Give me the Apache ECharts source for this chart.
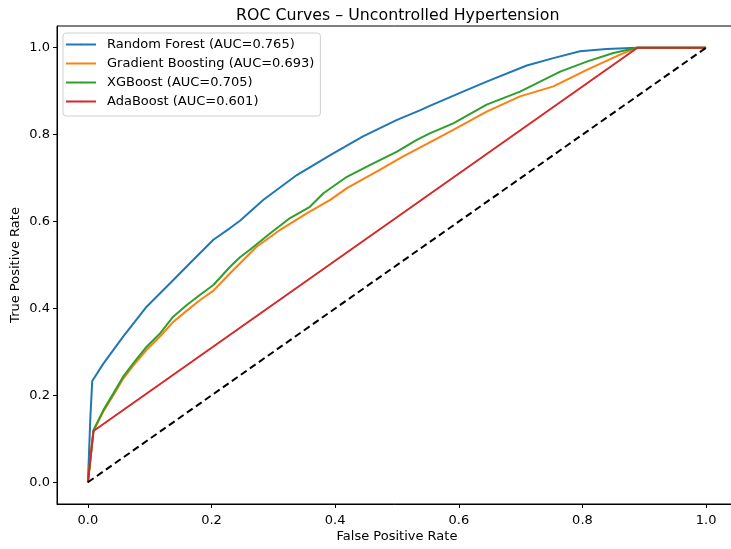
<!DOCTYPE html>
<html>
<head>
<meta charset="utf-8">
<script src="https://cdn.jsdelivr.net/npm/echarts@6/dist/echarts.min.js"></script>
<style>
  html, body { margin: 0; padding: 0; background: #fff; }
  #chart { width: 731px; height: 549px; }
</style>
</head>
<body>
<div id="chart"></div>
<script>
// ROC curve points as [false positive rate, true positive rate]
const randomForest = [
  [0, 0], [0.004, 0.15], [0.007, 0.233], [0.025, 0.273], [0.057, 0.335], [0.095, 0.404],
  [0.133, 0.458], [0.165, 0.504], [0.203, 0.558], [0.23, 0.585], [0.246, 0.602],
  [0.284, 0.650], [0.338, 0.707], [0.392, 0.753], [0.445, 0.796], [0.5, 0.834],
  [0.537, 0.856], [0.553, 0.866], [0.602, 0.896], [0.645, 0.922], [0.710, 0.959],
  [0.753, 0.976], [0.796, 0.992], [0.839, 0.997], [0.888, 1.0], [1.0, 1.0]
];
const gradientBoosting = [
  [0, 0], [0.009, 0.118], [0.025, 0.163], [0.041, 0.2], [0.057, 0.238], [0.073, 0.268],
  [0.095, 0.305], [0.117, 0.336], [0.138, 0.369], [0.160, 0.395], [0.181, 0.419],
  [0.203, 0.441], [0.230, 0.481], [0.273, 0.542],
  [0.311, 0.581], [0.354, 0.619], [0.392, 0.650], [0.419, 0.677], [0.472, 0.719],
  [0.510, 0.750], [0.537, 0.770], [0.591, 0.811], [0.645, 0.853],
  [0.699, 0.888], [0.753, 0.911], [0.807, 0.949], [0.861, 0.984], [0.888, 1.0], [1.0, 1.0]
];
const xgBoost = [
  [0, 0], [0.009, 0.12], [0.025, 0.166], [0.041, 0.204], [0.057, 0.243], [0.073, 0.273],
  [0.095, 0.312], [0.117, 0.343], [0.138, 0.381], [0.160, 0.408], [0.181, 0.431],
  [0.203, 0.454], [0.230, 0.496], [0.246, 0.518], [0.262, 0.535],
  [0.295, 0.573], [0.327, 0.608], [0.359, 0.634], [0.381, 0.665], [0.419, 0.703],
  [0.456, 0.730], [0.5, 0.761], [0.532, 0.788], [0.553, 0.803], [0.591, 0.826],
  [0.645, 0.869], [0.699, 0.899], [0.764, 0.945], [0.807, 0.968], [0.850, 0.988],
  [0.888, 1.0], [1.0, 1.0]
];
const adaBoost = [
  [0, 0], [0.009, 0.118], [0.889, 1.0], [1.0, 1.0]
];
const chanceLine = [[0, 0], [1, 1]];

const seriesNames = [
  'Random Forest (AUC=0.765)',
  'Gradient Boosting (AUC=0.693)',
  'XGBoost (AUC=0.705)',
  'AdaBoost (AUC=0.601)'
];
const seriesColors = ['#1f77b4', '#ff7f0e', '#2ca02c', '#d62728'];
const tickValues = [0, 0.2, 0.4, 0.6, 0.8, 1.0];

const FONT = 'DejaVu Sans';

function curve(name, data, color) {
  return {
    name: name,
    type: 'line',
    data: data,
    symbol: 'none',
    legendIcon: 'rect',
    smooth: false,
    animation: false,
    lineStyle: { color: color, width: 2 },
    itemStyle: { color: color }
  };
}

function axisCommon(label, gap, labelMargin) {
  return {
    type: 'value',
    min: -0.05,
    max: 1.05,
    name: label,
    nameLocation: 'middle',
    nameGap: gap,
    nameMoveOverlap: false,
    nameTextStyle: { color: '#000', fontFamily: FONT, fontSize: 13 },
    axisLine: { show: true, onZero: false, lineStyle: { color: '#000', width: 1 } },
    axisTick: {
      show: true, inside: false, length: 4,
      customValues: tickValues,
      lineStyle: { color: '#000', width: 1 }
    },
    axisLabel: {
      customValues: tickValues,
      color: '#000', fontFamily: FONT, fontSize: 13, margin: labelMargin,
      formatter: v => v.toFixed(1)
    },
    splitLine: { show: false }
  };
}

const chart = echarts.init(document.getElementById('chart'), null, { renderer: 'canvas' });
chart.setOption({
  animation: false,
  backgroundColor: '#fff',
  title: {
    text: 'ROC Curves \u2013 Uncontrolled Hypertension',
    left: 231, top: 3,
    textStyle: { color: '#000', fontFamily: FONT, fontSize: 15.8, fontWeight: 'normal' }
  },
  grid: {
    left: 57, width: 680, top: 26, height: 478,
    outerBoundsMode: 'none',
    containLabel: false,
    show: true, borderColor: '#000', borderWidth: 1, backgroundColor: 'transparent'
  },
  legend: {
    data: seriesNames,
    orient: 'vertical',
    left: 63, top: 33,
    padding: [4, 6, 7, 2],
    itemWidth: 30, itemHeight: 2, itemGap: 4,
    backgroundColor: '#fff',
    borderColor: '#d0d0d0', borderWidth: 1, borderRadius: 3,
    textStyle: { color: '#000', fontFamily: FONT, fontSize: 13, lineHeight: 15, padding: [0, 0, 0, 6] }
  },
  xAxis: axisCommon('False Positive Rate', 26, 10),
  yAxis: axisCommon('True Positive Rate', 35, 7),
  series: [
    curve(seriesNames[0], randomForest, seriesColors[0]),
    curve(seriesNames[1], gradientBoosting, seriesColors[1]),
    curve(seriesNames[2], xgBoost, seriesColors[2]),
    curve(seriesNames[3], adaBoost, seriesColors[3]),
    {
      name: 'chance',
      type: 'line',
      data: chanceLine,
      symbol: 'none',
      lineStyle: { color: '#000', width: 2, type: [7, 4] },
      z: 3
    }
  ]
});
</script>
</body>
</html>
